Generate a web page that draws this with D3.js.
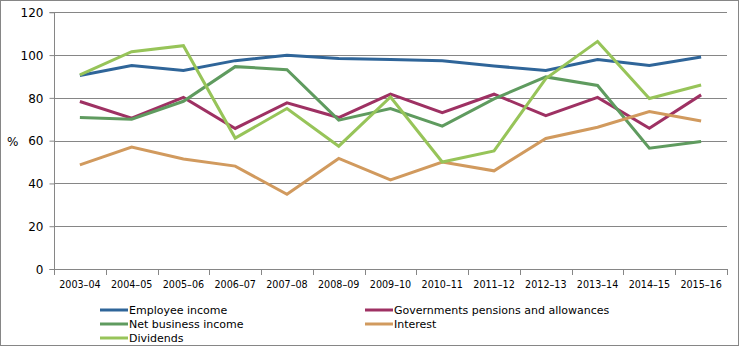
<!DOCTYPE html>
<html><head><meta charset="utf-8">
<script src="https://cdn.jsdelivr.net/npm/d3@7"></script>
<style>body{margin:0;background:#fff}svg{display:block}</style>
</head><body>
<svg id="c" width="739" height="346"></svg>
<script>
const categories = ["2003–04","2004–05","2005–06","2006–07","2007–08","2008–09","2009–10","2010–11","2011–12","2012–13","2013–14","2014–15","2015–16"];
const employeeIncome = [90.5,95.1,92.8,97.4,99.9,98.4,97.9,97.4,94.9,92.8,97.9,95.1,99.1];
const govPensions = [78.3,70.5,80.2,65.7,77.7,70.8,81.8,73.1,81.7,71.7,80.2,65.8,81.4];
const netBusiness = [70.8,70.0,78.4,94.6,93.2,69.6,75.0,66.8,79.5,89.8,85.8,56.5,59.6];
const interest = [48.7,57.0,51.4,48.1,34.9,51.7,41.7,50.0,45.9,61.0,66.3,73.6,69.2];
const dividends = [90.7,101.6,104.4,61.2,75.0,57.4,80.4,50.0,55.2,89.0,106.4,79.7,86.0];
const yTicks = [0,20,40,60,80,100,120];
const seriesNames = ["Employee income","Governments pensions and allowances","Net business income","Interest","Dividends"];
const seriesColors = ["#2F6599","#9E3163","#5F9B5F","#D19A5E","#97C459"];
const seriesData = [employeeIncome, govPensions, netBusiness, interest, dividends];

(function(){
const svg = d3.select("#c");
const W = 739, H = 346;
svg.append("rect").attr("x",0.5).attr("y",0.5).attr("width",W-1).attr("height",H-1)
  .attr("fill","#fff").attr("stroke","#868686");

const pL = 54, pR = 727, pT = 12.3, pB = 269;
const x = d3.scaleBand().domain(categories).range([pL, pR]).paddingInner(0).paddingOuter(0);
const y = d3.scaleLinear().domain([0,120]).range([pB, pT]);

// gridlines
svg.append("g").selectAll("line").data(yTicks.filter(d=>d>0)).join("line")
  .attr("x1",pL).attr("x2",pR)
  .attr("y1",d=>Math.round(y(d))+0.5).attr("y2",d=>Math.round(y(d))+0.5)
  .attr("stroke","#868686").attr("stroke-width",1);

// y axis
const yAxis = d3.axisLeft(y).tickValues(yTicks).tickSize(5).tickPadding(6);
const gy = svg.append("g").attr("transform",`translate(${pL+0.5},0)`).call(yAxis);
gy.select(".domain").attr("stroke","#868686").attr("d",`M-5,${Math.round(pT)+0.5}H0V${Math.round(pB)+0.5}H-5`);
gy.selectAll(".tick line").attr("stroke","#868686");
gy.selectAll(".tick text").attr("font-family","Verdana, DejaVu Sans, sans-serif").attr("font-size","12px").attr("fill","#000").attr("dy","0.36em");

// x axis
svg.append("line").attr("x1",pL).attr("x2",pR).attr("y1",Math.round(pB)+0.5).attr("y2",Math.round(pB)+0.5).attr("stroke","#868686");
const bounds = categories.map(c=>x(c)).concat([pR]);
svg.append("g").selectAll("line").data(bounds).join("line")
  .attr("x1",d=>Math.round(d)+0.5).attr("x2",d=>Math.round(d)+0.5)
  .attr("y1",Math.round(pB)).attr("y2",Math.round(pB)+6).attr("stroke","#868686");
svg.append("g").selectAll("text").data(categories).join("text")
  .attr("x",d=>x(d)+x.bandwidth()/2).attr("y",288)
  .attr("text-anchor","middle").attr("font-family","DejaVu Sans, sans-serif").attr("font-size","9.6px").attr("fill","#000")
  .text(d=>d);

// % label
svg.append("text").attr("x",7).attr("y",146).attr("font-family","DejaVu Sans, sans-serif").attr("font-size","12px").attr("fill","#000").text("%");

// lines
const line = d3.line().x((d,i)=>x(categories[i])+x.bandwidth()/2).y(d=>y(d));
svg.append("g").selectAll("path").data(seriesData).join("path")
  .attr("d",d=>line(d)).attr("fill","none")
  .attr("stroke",(d,i)=>seriesColors[i]).attr("stroke-width",3).attr("stroke-linejoin","miter");

// legend
const legPos = [[100,310],[365,310],[100,324],[365,324],[100,338]];
const lg = svg.append("g").selectAll("g").data(seriesNames).join("g")
  .attr("transform",(d,i)=>`translate(${legPos[i][0]},${legPos[i][1]})`);
lg.append("line").attr("x1",0).attr("x2",28).attr("y1",0).attr("y2",0)
  .attr("stroke",(d,i)=>seriesColors[i]).attr("stroke-width",3);
lg.append("text").attr("x",29).attr("y",0).attr("dy","0.36em")
  .attr("font-family","DejaVu Sans, sans-serif").attr("font-size","11px").attr("fill","#000").text(d=>d);
})();
</script>
</body></html>
